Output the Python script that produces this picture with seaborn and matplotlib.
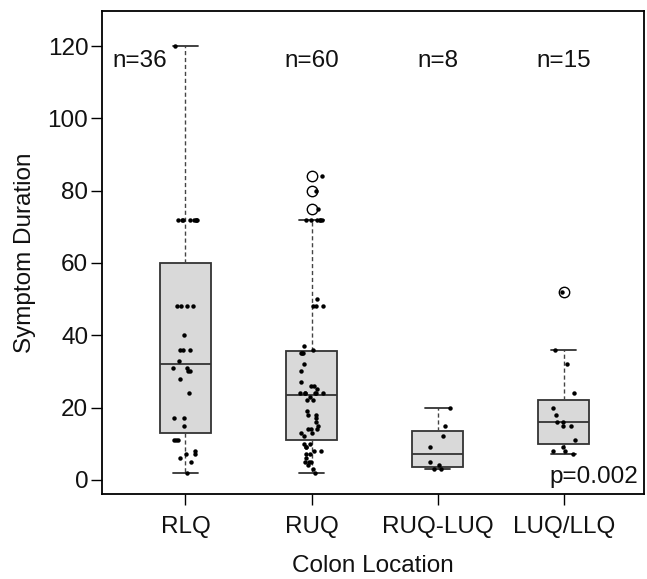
import numpy as np
import pandas as pd
import seaborn as sns
import matplotlib.pyplot as plt

# symptom duration (hours) per colon location
locations = ['RLQ', 'RUQ', 'RUQ-LUQ', 'LUQ/LLQ']
rlq = [2, 5, 6, 7, 7, 8, 11, 11, 11, 15, 17, 17, 24, 28, 30, 30, 31, 31,
       33, 36, 36, 36, 40, 48, 48, 48, 48, 72, 72, 72, 72, 72, 72, 72, 72, 120]
ruq = [2, 3, 4, 5, 5, 5, 6, 7, 7, 8, 8, 9, 9, 10, 10, 12, 13, 13, 14, 14,
       14, 15, 16, 17, 18, 18, 19, 22, 22, 23, 24, 24, 24, 24, 24, 24, 25, 26,
       26, 27, 30, 32, 35, 35, 35, 36, 37, 48, 48, 48, 50, 72, 72, 72, 72, 72,
       72, 75, 80, 84]
ruq_luq = [3, 3, 4, 5, 9, 12, 15, 20]
luq_llq = [7, 8, 8, 9, 11, 15, 15, 16, 16, 18, 20, 24, 32, 36, 52]
p_text = 'p=0.002'

groups = [rlq, ruq, ruq_luq, luq_llq]
df = pd.DataFrame({
    'location': np.repeat(locations, [len(g) for g in groups]),
    'duration': np.concatenate(groups).astype(float),
})


def r_box_stats(values, coef=1.5):
    # Tukey hinges like R's boxplot (fivenum), not numpy percentiles
    x = np.sort(np.asarray(values, dtype=float))
    n = len(x)
    n4 = np.floor((n + 3) / 2) / 2
    d = np.array([1, n4, (n + 1) / 2, n + 1 - n4, n])
    five = 0.5 * (x[np.floor(d).astype(int) - 1] + x[np.ceil(d).astype(int) - 1])
    spread = five[3] - five[1]
    inside = x[(x >= five[1] - coef * spread) & (x <= five[3] + coef * spread)]
    return dict(whislo=inside.min(), q1=five[1], med=five[2], q3=five[3],
                whishi=inside.max(),
                fliers=x[(x < inside.min()) | (x > inside.max())])


sns.set_style('ticks')
plt.rcParams['font.family'] = ['Liberation Sans', 'DejaVu Sans']
plt.rcParams['font.size'] = 17.5
plt.rcParams['text.color'] = '#111111'
plt.rcParams['axes.labelcolor'] = '#111111'

fig = plt.figure(figsize=(6.47, 5.79), dpi=100)
ax = fig.add_axes([0.158, 0.147, 0.838, 0.834])

edge = '#333333'
ax.bxp([r_box_stats(g) for g in groups], positions=range(len(groups)),
       widths=0.4, capwidths=0.2, patch_artist=True, manage_ticks=False,
       boxprops=dict(facecolor='#d9d9d9', edgecolor=edge, linewidth=1.3),
       whiskerprops=dict(color='#444444', linestyle=(0, (3, 2)), linewidth=1.0),
       capprops=dict(color=edge, linewidth=1.3),
       medianprops=dict(color=edge, linewidth=1.3),
       flierprops=dict(marker='o', markerfacecolor='none',
                       markeredgecolor='black', markersize=7.5,
                       markeredgewidth=1.0))

np.random.seed(3)
sns.stripplot(data=df, x='location', y='duration', order=locations,
              jitter=0.1, color='black', size=3.2, linewidth=0, ax=ax, zorder=3)

# sample sizes above each box
label_x = [-0.36, 1, 2, 3]
for xpos, g in zip(label_x, groups):
    ax.text(xpos, 114.3, f'n={len(g)}', ha='center', va='baseline')
ax.text(3.59, -0.9, p_text, ha='right', va='baseline')

ax.set_xlim(-0.66, 3.64)
ax.set_ylim(-3.9, 129.7)
ax.set_yticks(range(0, 121, 20))
ax.set_xlabel('Colon Location', labelpad=12.5)
ax.set_ylabel('Symptom Duration', labelpad=8)
ax.tick_params(axis='both', length=8, width=1.0, color='black', labelcolor='#111111')
ax.tick_params(axis='x', pad=8)
ax.tick_params(axis='y', pad=2)
for s in ax.spines.values():
    s.set_color('black')
    s.set_linewidth(1.3)

plt.savefig('out.png', dpi=100)
